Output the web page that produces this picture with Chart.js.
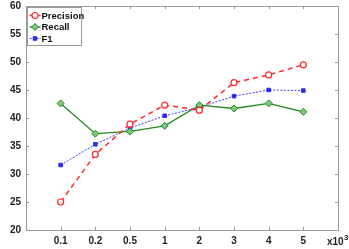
<!DOCTYPE html>
<html lang="en">
<head>
  <meta charset="UTF-8">
  <title>Precision / Recall / F1</title>
  <script src="https://cdn.jsdelivr.net/npm/chart.js"></script>
  <style>
    html, body { margin: 0; padding: 0; background: #fff; }
    #wrap { width: 349px; height: 249px; position: relative; }
  </style>
</head>
<body>
  <div id="wrap"><canvas id="prf"></canvas></div>
  <script>
    // values
    const sizes = ['0.1', '0.2', '0.5', '1', '2', '3', '4', '5'];
    const precision = [25.0, 33.5, 38.9, 42.3, 41.4, 46.3, 47.7, 49.5];
    const recall = [42.6, 37.2, 37.6, 38.6, 42.3, 41.7, 42.6, 41.1];
    const f1 = [31.6, 35.3, 38.2, 40.4, 41.9, 43.9, 45.0, 44.9];
    const yTicks = [20, 25, 30, 35, 40, 45, 50, 55, 60];

    const FONT = '"Liberation Sans", Arial, sans-serif';
    const pts = vals => vals.map((v, i) => ({ x: i + 1, y: v }));

    // box, inward ticks, legend and exponent label (MATLAB look)
    const frame = {
      id: 'frame',
      afterDraw(chart) {
        const c = chart.ctx, a = chart.chartArea;
        const xs = chart.scales.x, ys = chart.scales.y;
        c.save();
        c.strokeStyle = '#9a9a9a';
        c.lineWidth = 1;
        c.strokeRect(Math.round(a.left) + 0.5, Math.round(a.top) + 0.5,
          Math.round(a.right - a.left), Math.round(a.bottom - a.top));
        c.beginPath();
        sizes.forEach((s, i) => {
          const px = Math.round(xs.getPixelForValue(i + 1)) + 0.5;
          c.moveTo(px, a.bottom); c.lineTo(px, a.bottom - 3);
          c.moveTo(px, a.top); c.lineTo(px, a.top + 3);
        });
        yTicks.forEach(t => {
          const py = Math.round(ys.getPixelForValue(t)) + 0.5;
          c.moveTo(a.left, py); c.lineTo(a.left + 3, py);
          c.moveTo(a.right, py); c.lineTo(a.right - 3, py);
        });
        c.stroke();

        // exponent
        c.fillStyle = '#222';
        c.font = 'bold 10px ' + FONT;
        c.textBaseline = 'alphabetic';
        c.textAlign = 'left';
        c.fillText('x10', a.right - 11, 245);
        c.font = 'bold 8px ' + FONT;
        c.fillText('3', a.right + 6, 240);

        // legend box
        const lx = Math.round(a.left) + 1.5, ly = Math.round(a.top) + 1.5, lw = 54, lh = 38;
        c.fillStyle = '#fff';
        c.fillRect(lx, ly, lw, lh);
        c.strokeStyle = '#9a9a9a';
        c.lineWidth = 1;
        c.strokeRect(lx, ly, lw, lh);
        chart.data.datasets.forEach((ds, i) => {
          const cy = ly + 8 + i * 11.5;
          c.strokeStyle = ds.borderColor;
          c.lineWidth = ds.borderWidth;
          c.setLineDash(ds.borderDash || []);
          c.beginPath(); c.moveTo(lx + 2, cy); c.lineTo(lx + 13, cy); c.stroke();
          c.setLineDash([]);
          c.fillStyle = ds.pointBackgroundColor;
          c.strokeStyle = ds.pointBorderColor;
          c.lineWidth = ds.pointBorderWidth;
          Chart.helpers.drawPoint(c, {
            pointStyle: ds.pointStyle, radius: ds.pointRadius,
            borderWidth: ds.pointBorderWidth
          }, lx + 7.5, cy);
          c.fillStyle = '#111';
          c.font = 'bold 9.5px ' + FONT;
          c.textBaseline = 'middle';
          c.fillText(ds.label, lx + 14, cy + 0.5);
        });
        c.restore();
      }
    };

    new Chart(document.getElementById('prf'), {
      type: 'line',
      data: {
        datasets: [
          {
            label: 'Precision', data: pts(precision),
            borderColor: '#ff2a2a', backgroundColor: '#ffffff',
            borderWidth: 1.5, borderDash: [5, 4],
            pointStyle: 'circle', pointRadius: 3, pointBorderWidth: 1.2,
            pointBackgroundColor: '#ffffff', pointBorderColor: '#ff2a2a'
          },
          {
            label: 'Recall', data: pts(recall),
            borderColor: '#1f8a1f', backgroundColor: '#7fc77f',
            borderWidth: 1.3,
            pointStyle: 'rectRot', pointRadius: 3.5, pointBorderWidth: 1,
            pointBackgroundColor: '#7fc77f', pointBorderColor: '#1f8a1f'
          },
          {
            label: 'F1', data: pts(f1),
            borderColor: '#3d3dff', backgroundColor: '#2a2aff',
            borderWidth: 1, borderDash: [2, 1.5],
            pointStyle: 'rect', pointRadius: 2.5, pointBorderWidth: 1,
            pointBackgroundColor: '#2a2aff', pointBorderColor: '#2a2aff'
          }
        ]
      },
      options: {
        responsive: true,
        maintainAspectRatio: false,
        animation: false,
        layout: { padding: { top: 6, right: 11, left: 0, bottom: 0 } },
        plugins: { legend: { display: false }, tooltip: { enabled: false } },
        scales: {
          x: {
            type: 'linear', min: 0, max: 9,
            afterFit: s => { s.height = 19; s.paddingLeft = 0; s.paddingRight = 0; },
            afterBuildTicks: s => { s.ticks = sizes.map((_, i) => ({ value: i + 1 })); },
            grid: { display: false, drawTicks: false },
            border: { display: false },
            ticks: {
              color: '#222', padding: 5, maxRotation: 0,
              font: { family: FONT, size: 10, weight: 'bold' },
              callback: v => sizes[v - 1]
            }
          },
          y: {
            min: 20, max: 60,
            afterFit: s => { s.width = 26; s.paddingTop = 0; s.paddingBottom = 0; },
            afterBuildTicks: s => { s.ticks = yTicks.map(v => ({ value: v })); },
            grid: { display: false, drawTicks: false },
            border: { display: false },
            ticks: {
              color: '#222', padding: 5,
              font: { family: FONT, size: 10, weight: 'bold' }
            }
          }
        }
      },
      plugins: [frame]
    });
  </script>
</body>
</html>
